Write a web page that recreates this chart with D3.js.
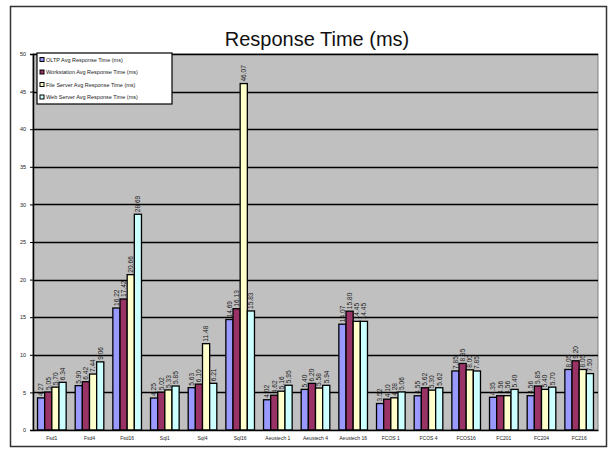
<!DOCTYPE html>
<html>
<head>
<meta charset="utf-8">
<script src="https://cdn.jsdelivr.net/npm/d3@7"></script>
<style>
  html, body { margin: 0; padding: 0; background: #fff; }
  svg { display: block; font-family: "Liberation Sans", Arial, sans-serif; }
</style>
</head>
<body>
<svg id="chart" width="612" height="450"></svg>
<script>
// Test configurations along the x axis
const categories = ["Fsd1", "Fsd4", "Fsd16", "Sql1", "Sql4", "Sql16",
  "Aeustech 1", "Aeustech 4", "Aeustech 16", "FCOS 1", "FCOS 4", "FCOS16",
  "FC201", "FC204", "FC216"];

// Average response times (ms) per server role
const oltp        = [4.27, 5.90, 16.22, 4.25, 5.63, 14.69, 4.02, 5.40, 14.07, 3.52, 4.55, 7.85, 4.35, 4.56, 8.05];
const workstation = [5.05, 6.42, 17.42, 5.02, 6.10, 16.13, 4.62, 6.20, 15.80, 4.10, 5.62, 8.85, 4.56, 5.85, 9.20];
const fileServer  = [5.70, 7.44, 20.66, 5.33, 11.48, 46.07, 5.16, 5.58, 14.45, 4.28, 5.30, 8.00, 4.56, 5.40, 8.05];
const webServer   = [6.34, 9.06, 28.69, 5.85, 6.21, 15.83, 5.95, 5.94, 14.45, 5.06, 5.62, 7.85, 5.40, 5.70, 7.50];

const seriesNames = ["OLTP Avg Response Time (ms)", "Workstation Avg Response Time (ms)",
  "File Server Avg Response Time (ms)", "Web Server Avg Response Time (ms)"];
const yTicks = [0, 5, 10, 15, 20, 25, 30, 35, 40, 45, 50];

const seriesValues = [oltp, workstation, fileServer, webServer];
const colors = ["#9999FF", "#993366", "#FFFFCC", "#CCFFFF"];

const svg = d3.select("#chart");
const plot = { left: 33, right: 598, top: 54, bottom: 430 };

// Outer chart frame
svg.append("rect")
  .attr("x", 10.5).attr("y", 6.5).attr("width", 596).attr("height", 440)
  .attr("fill", "#fff").attr("stroke", "#333").attr("stroke-width", 1.5);

// Title
svg.append("text")
  .attr("x", 317).attr("y", 46)
  .attr("text-anchor", "middle")
  .attr("font-size", 20).attr("fill", "#111")
  .text("Response Time (ms)");

const x0 = d3.scaleBand().domain(categories)
  .range([plot.left, plot.right]).paddingInner(0.24).paddingOuter(0.12);
const x1 = d3.scaleBand().domain(d3.range(seriesNames.length))
  .range([0, x0.bandwidth()]);
const y = d3.scaleLinear().domain([0, 50]).range([plot.bottom, plot.top]);

// Plot background
svg.append("rect")
  .attr("x", plot.left).attr("y", plot.top)
  .attr("width", plot.right - plot.left).attr("height", plot.bottom - plot.top)
  .attr("fill", "#C0C0C0").attr("stroke", "#808080").attr("stroke-width", 1);

// Gridlines
svg.append("g").selectAll("line").data(yTicks.filter(t => t > 0)).join("line")
  .attr("x1", plot.left).attr("x2", plot.right)
  .attr("y1", d => Math.round(y(d)) + 0.5).attr("y2", d => Math.round(y(d)) + 0.5)
  .attr("stroke", "#000").attr("stroke-width", 1.4);

// Y axis
const yAxis = svg.append("g")
  .attr("transform", `translate(${plot.left},0)`)
  .call(d3.axisLeft(y).tickValues(yTicks).tickSize(3).tickPadding(4));
yAxis.select(".domain").attr("stroke", "#000").attr("stroke-width", 1.5);
yAxis.selectAll(".tick line").attr("stroke", "#000");
yAxis.selectAll("text").attr("font-size", 5.5).attr("fill", "#222")
  .attr("font-family", "Liberation Sans, Arial, sans-serif");

// Bars with their value labels
const groups = svg.append("g").selectAll("g").data(categories).join("g")
  .attr("transform", d => `translate(${x0(d)},0)`);

groups.each(function (cat, ci) {
  const g = d3.select(this);
  seriesValues.forEach((vals, si) => {
    const v = vals[ci];
    g.append("rect")
      .attr("x", x1(si)).attr("y", y(v))
      .attr("width", x1.bandwidth()).attr("height", y(0) - y(v))
      .attr("fill", colors[si]).attr("stroke", "#000").attr("stroke-width", 1.3);
    const cx = x1(si) + x1.bandwidth() / 2 + 2.4;
    const ty = y(v) - 2;
    g.append("text")
      .attr("transform", `translate(${cx},${ty}) rotate(-90)`)
      .attr("font-size", 6.6).attr("fill", "#1a1a1a")
      .text(v.toFixed(2));
  });
});

// X axis
const xAxis = svg.append("g")
  .attr("transform", `translate(0,${plot.bottom})`)
  .call(d3.axisBottom(x0).tickSize(0).tickPadding(6));
xAxis.select(".domain").attr("stroke", "#000").attr("stroke-width", 1.5);
xAxis.selectAll("text").attr("font-size", 5).attr("fill", "#222")
  .attr("font-family", "Liberation Sans, Arial, sans-serif");

// Legend
const legend = svg.append("g").attr("transform", "translate(37,53)");
legend.append("rect")
  .attr("width", 135).attr("height", 51)
  .attr("fill", "#fff").attr("stroke", "#000").attr("stroke-width", 1.2);
seriesNames.forEach((name, i) => {
  const ly = 7 + i * 12.5;
  legend.append("rect")
    .attr("x", 3).attr("y", ly - 2.5).attr("width", 4).attr("height", 4)
    .attr("fill", colors[i]).attr("stroke", "#000").attr("stroke-width", 1);
  legend.append("text")
    .attr("x", 9).attr("y", ly + 1.8)
    .attr("font-size", 5.5).attr("fill", "#222")
    .text(name);
});
</script>
</body>
</html>
